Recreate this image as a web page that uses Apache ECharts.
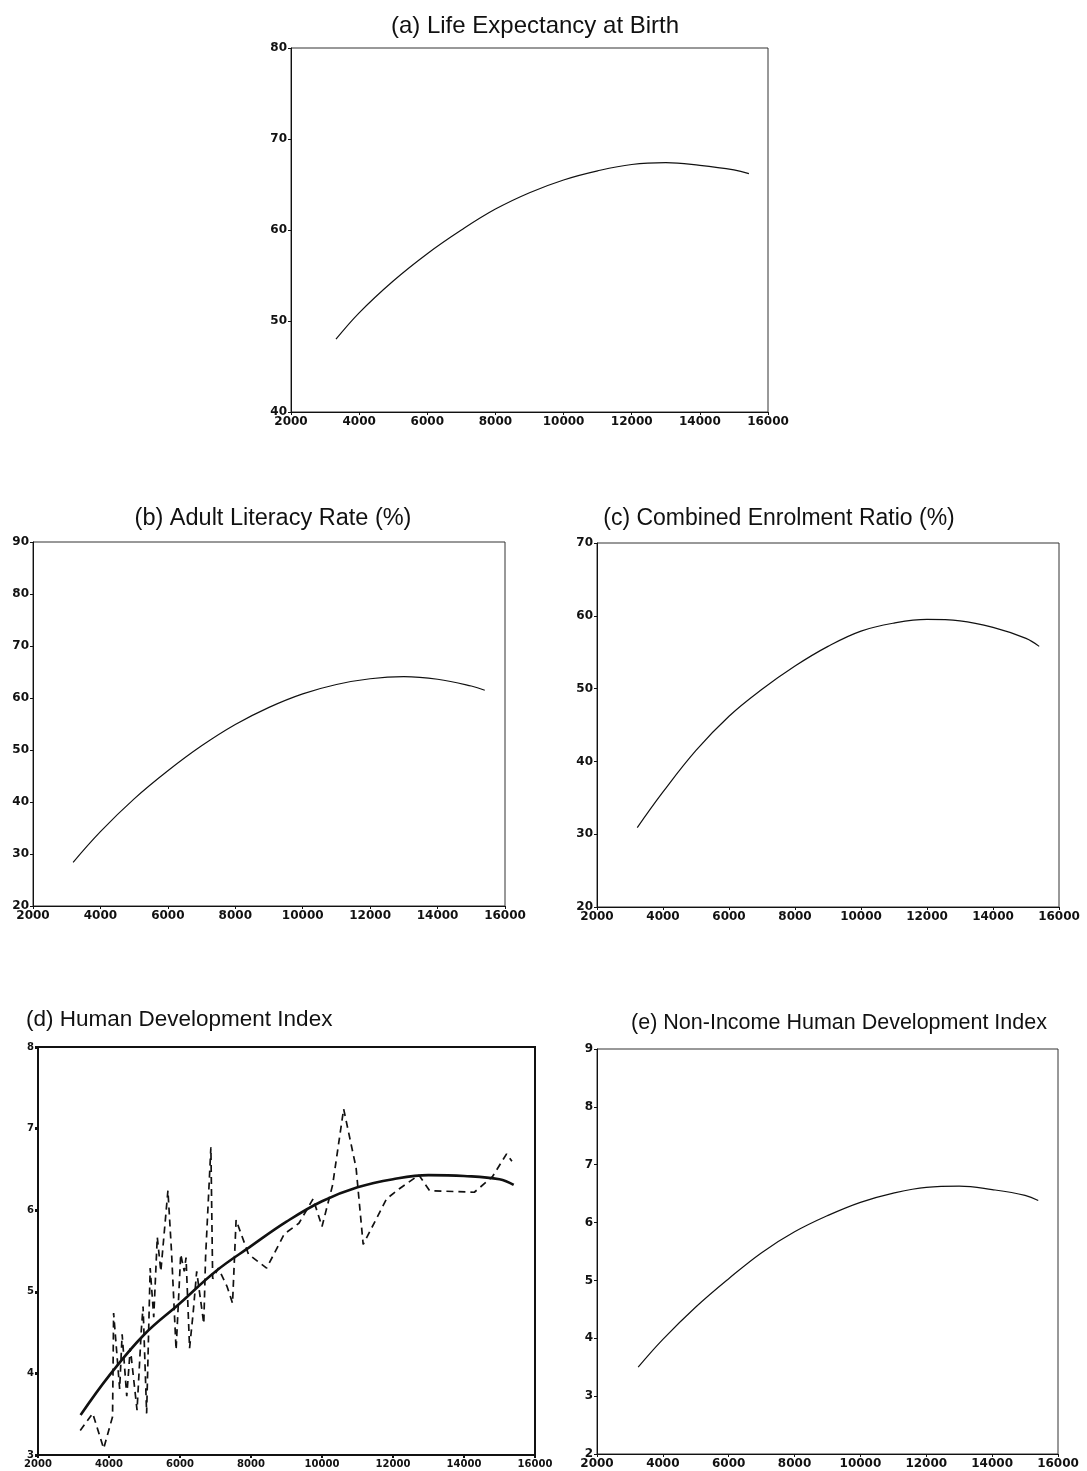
<!DOCTYPE html>
<html>
<head>
<meta charset="utf-8">
<script src="https://cdn.jsdelivr.net/npm/echarts@6/dist/echarts.min.js"></script>
<style>
  html, body { margin: 0; padding: 0; background: #fff; }
  #main { width: 1087px; height: 1471px; }
</style>
</head>
<body>
<div id="main"></div>
<script>
// income per capita (x) and fitted values
var xA = [3320, 4000, 5000, 6000, 7000, 8000, 9000, 10000, 11000, 12000, 13000, 14000, 15000, 15440];
var lifeExp = [48.0, 50.9, 54.4, 57.4, 60.0, 62.3, 64.1, 65.5, 66.5, 67.2, 67.4, 67.1, 66.6, 66.2];

var xB = [3190, 4000, 5000, 6000, 7000, 8000, 9000, 10000, 11000, 12000, 13000, 14000, 15000, 15400];
var literacy = [28.4, 34.3, 40.6, 46.0, 50.8, 54.9, 58.2, 60.8, 62.6, 63.7, 64.1, 63.6, 62.3, 61.5];

var xC = [3220, 4000, 5000, 6000, 7000, 8000, 9000, 10000, 11000, 12000, 13000, 14000, 15000, 15400];
var enrolment = [30.9, 35.8, 41.5, 46.2, 49.9, 53.1, 55.8, 57.9, 59.0, 59.5, 59.3, 58.4, 56.9, 55.8];

var xD = [3200, 4000, 5000, 6000, 7000, 8000, 9000, 10000, 11000, 12000, 13000, 14000, 15000, 15400];
var hdiFit = [3.49, 3.97, 4.48, 4.86, 5.25, 5.56, 5.86, 6.11, 6.28, 6.38, 6.43, 6.42, 6.38, 6.31];

// (d) HDI actual values (dashed)
var hdiX = [3190, 3540, 3850, 4100, 4130, 4300, 4370, 4500, 4600, 4790, 4910, 4960, 5060, 5160, 5260, 5360, 5460,
            5660, 5760, 5890, 6020, 6120, 6170, 6270, 6370, 6470, 6670, 6720, 6870, 6920, 7080, 7330, 7480, 7580,
            7930, 8440, 8940, 9350, 9750, 10000, 10300, 10610, 10960, 11160, 11820, 12170, 12730, 13030, 14290,
            14800, 15200, 15350];
var hdiY = [3.30, 3.51, 3.08, 3.47, 4.74, 3.81, 4.48, 3.72, 4.31, 3.55, 4.53, 4.82, 3.51, 5.29, 4.69, 5.67, 5.25,
            6.24, 5.50, 4.29, 5.46, 5.25, 5.42, 4.31, 4.74, 5.25, 4.61, 5.42, 6.77, 5.16, 5.29, 5.06, 4.86, 5.88,
            5.46, 5.29, 5.71, 5.84, 6.14, 5.80, 6.31, 7.24, 6.52, 5.58, 6.14, 6.26, 6.43, 6.24, 6.22,
            6.41, 6.69, 6.60];

var xE = [3250, 4000, 5000, 6000, 7000, 8000, 9000, 10000, 11000, 12000, 13000, 14000, 15000, 15400];
var nonIncomeHdi = [3.50, 3.98, 4.54, 5.03, 5.48, 5.84, 6.12, 6.35, 6.51, 6.61, 6.63, 6.57, 6.47, 6.38];

var titles = ['(a) Life Expectancy at Birth', '(b) Adult Literacy Rate (%)', '(c) Combined Enrolment Ratio (%)',
              '(d) Human Development Index', '(e) Non-Income Human Development Index'];

function pairs(xs, ys) {
    var out = [];
    for (var i = 0; i < xs.length; i++) out.push([xs[i], ys[i]]);
    return out;
}

var titleFont = 'Liberation Sans, Arial, sans-serif';
var tickFont = 'DejaVu Sans, sans-serif';

var grids = [
    {left: 291, top: 48, width: 477, height: 364},
    {left: 33, top: 542, width: 472, height: 364},
    {left: 597, top: 543, width: 462, height: 364},
    {left: 38, top: 1047, width: 497, height: 408},
    {left: 597, top: 1049, width: 461, height: 405}
];
var yRange = [[40, 80, 10], [20, 90, 10], [20, 70, 10], [3, 8, 1], [2, 9, 1]];

var titlePos = [
    {left: 530, top: 9, textAlign: 'center', size: 24},
    {left: 268, top: 502, textAlign: 'center', size: 23.5},
    {left: 774, top: 502, textAlign: 'center', size: 23},
    {left: 21, top: 1003, textAlign: 'left', size: 22.5},
    {left: 834, top: 1007, textAlign: 'center', size: 21.5}
];

var gridOpts = [], xAxes = [], yAxes = [], titleOpts = [];
for (var i = 0; i < 5; i++) {
    var thick = (i === 3);
    var lbl = {
        color: '#111', fontFamily: tickFont, fontSize: thick ? 10 : 12, fontWeight: 'bold',
        formatter: function (v) { return String(v); }
    };
    gridOpts.push({
        left: grids[i].left, top: grids[i].top, width: grids[i].width, height: grids[i].height,
        show: true, borderColor: thick ? '#111' : '#333', borderWidth: thick ? 2 : 1
    });
    xAxes.push({
        type: 'value', gridIndex: i, min: 2000, max: 16000, interval: 2000,
        axisLine: {show: true, lineStyle: {color: '#111', width: thick ? 2 : 1}},
        axisTick: {show: true, length: 3, lineStyle: {color: '#111', width: thick ? 2 : 1}},
        splitLine: {show: false},
        axisLabel: Object.assign({margin: 4}, lbl)
    });
    yAxes.push({
        type: 'value', gridIndex: i, min: yRange[i][0], max: yRange[i][1], interval: yRange[i][2],
        axisLine: {show: true, lineStyle: {color: '#111', width: thick ? 2 : 1}},
        axisTick: {show: true, length: 3, lineStyle: {color: '#111', width: thick ? 3 : 1}},
        splitLine: {show: false},
        axisLabel: Object.assign({margin: 4}, lbl)
    });
    titleOpts.push({
        text: titles[i], left: titlePos[i].left, top: titlePos[i].top, textAlign: titlePos[i].textAlign,
        textStyle: {fontFamily: titleFont, fontSize: titlePos[i].size, fontWeight: 'normal', color: '#111'}
    });
}

function curve(idx, xs, ys, w) {
    return {
        type: 'line', xAxisIndex: idx, yAxisIndex: idx, data: pairs(xs, ys),
        smooth: 0.4, showSymbol: false,
        lineStyle: {color: '#111', width: w}
    };
}

var option = {
    backgroundColor: '#fff',
    animation: false,
    title: titleOpts,
    grid: gridOpts,
    xAxis: xAxes,
    yAxis: yAxes,
    series: [
        curve(0, xA, lifeExp, 1.2),
        curve(1, xB, literacy, 1.2),
        curve(2, xC, enrolment, 1.2),
        {
            type: 'line', xAxisIndex: 3, yAxisIndex: 3, data: pairs(hdiX, hdiY),
            showSymbol: false,
            lineStyle: {color: '#111', width: 1.7, type: [7, 5]}
        },
        curve(3, xD, hdiFit, 2.6),
        curve(4, xE, nonIncomeHdi, 1.2)
    ]
};

var myChart = echarts.init(document.getElementById('main'));
myChart.setOption(option);
</script>
</body>
</html>
